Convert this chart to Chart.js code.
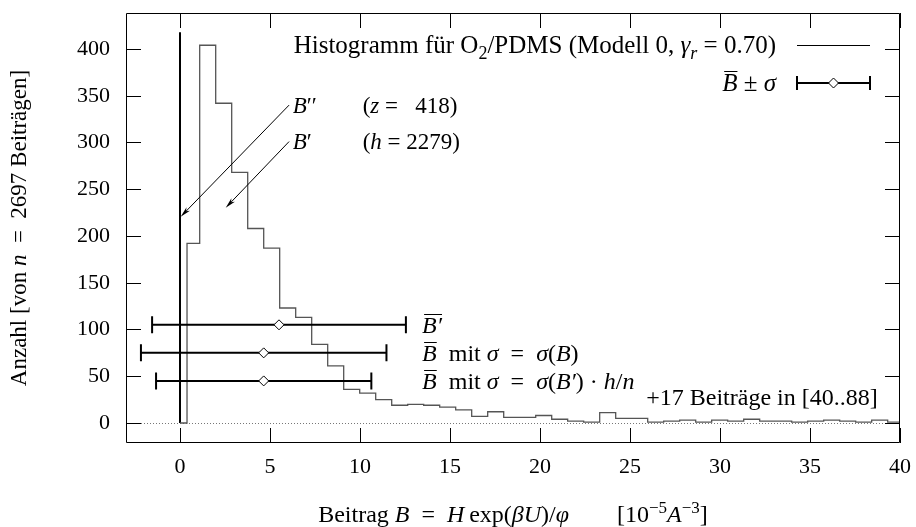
<!DOCTYPE html>
<html lang="de">
<head>
<meta charset="UTF-8">
<title>Histogramm O2/PDMS</title>
<script src="https://cdn.jsdelivr.net/npm/chart.js"></script>
<style>
    body { margin: 0; background: #fff; }
    #wrap { width: 916px; height: 527px; }
</style>
</head>
<body>
<div id="wrap"><canvas id="histChart" width="916" height="527"></canvas></div>
<script>
// ---- values ----
const zeroCount = 418;   // B'': contributions that are exactly 0
const binLeft = [0.39, 1.094, 1.983, 2.872, 3.761, 4.650, 5.538, 6.427, 7.316, 8.205,
                 9.094, 9.983, 10.872, 11.761, 12.650, 13.538, 14.427, 15.316, 16.205, 17.094,
                 17.983, 18.872, 19.761, 20.650, 21.538, 22.427, 23.316, 24.205, 25.094, 25.983,
                 26.872, 27.761, 28.650, 29.538, 30.427, 31.316, 32.205, 33.094, 33.983, 34.872,
                 35.761, 36.650, 37.538, 38.427, 39.316];
const binRightEnd = 40.205;
const binCount = [192, 404, 342, 268, 208, 187, 123, 113, 84, 61,
                  36, 32, 25, 19, 20, 19, 17, 14, 7, 12,
                  6, 6, 8, 4, 2, 1, 11, 5, 5, 1,
                  2, 3, 1, 3, 2, 4, 2, 2, 1, 2,
                  3, 2, 1, 3, 1];
const xTicks = [0, 5, 10, 15, 20, 25, 30, 35, 40];
const yTicks = [0, 50, 100, 150, 200, 250, 300, 350, 400];

// mean +- sigma bars (B', B with sigma(B), B with sigma(B')*h/n)
const barMean  = [5.50, 4.65, 4.65];
const barSigma = [7.05, 6.82, 5.98];
const barLevel = [105, 75, 45];

// ---- text helpers ----
const SERIF = '"Liberation Serif", "Times New Roman", serif';
const TICK_FS = 22;

function fontOf(s, size) {
    return (s.i ? 'italic ' : '') + size + 'px ' + SERIF;
}
function segSize(s, fs) { return (s.sub || s.sup) ? Math.round(fs * 0.72) : fs; }
function richWidth(ctx, segs, fs) {
    let w = 0;
    for (const s of segs) {
        ctx.font = fontOf(s, segSize(s, fs));
        w += ctx.measureText(s.t).width;
    }
    return w;
}
// y is the vertical centre of the text line
function drawRich(ctx, segs, x, y, align, fs) {
    const w = richWidth(ctx, segs, fs);
    let cx = align === 'right' ? x - w : align === 'center' ? x - w / 2 : x;
    const base = y + fs * 0.33;
    ctx.textAlign = 'left';
    ctx.textBaseline = 'alphabetic';
    ctx.fillStyle = '#000';
    ctx.strokeStyle = '#000';
    for (const s of segs) {
        const size = segSize(s, fs);
        ctx.font = fontOf(s, size);
        const sw = ctx.measureText(s.t).width;
        let by = base;
        if (s.sub) by += fs * 0.22;
        if (s.sup) by -= fs * 0.38;
        ctx.fillText(s.t, cx, by);
        if (s.over) {
            const oy = Math.round(base - fs * 0.8) + 0.5;
            ctx.beginPath();
            ctx.lineWidth = 1;
            ctx.moveTo(cx + 2, oy);
            ctx.lineTo(cx + sw, oy);
            ctx.stroke();
        }
        cx += sw;
    }
}

const EQ = '\u2002=\u2002';
const legendHist = [{t: 'Histogramm für O'}, {t: '2', sub: true}, {t: '/PDMS (Modell 0, '},
                    {t: 'γ', i: true}, {t: 'r', i: true, sub: true}, {t: ' = 0.70)'}];
const legendBar = [{t: 'B', i: true, over: true}, {t: ' ± '}, {t: 'σ', i: true}];
const barLabels = [
    [{t: 'B′', i: true, over: true}],
    [{t: 'B', i: true, over: true}, {t: '\u2002mit '}, {t: 'σ', i: true}, {t: EQ}, {t: 'σ', i: true},
     {t: '('}, {t: 'B', i: true}, {t: ')'}],
    [{t: 'B', i: true, over: true}, {t: '\u2002mit '}, {t: 'σ', i: true}, {t: EQ}, {t: 'σ', i: true},
     {t: '('}, {t: 'B′', i: true}, {t: ') · '}, {t: 'h', i: true}, {t: '/'}, {t: 'n', i: true}]
];
const xTitle = [{t: 'Beitrag '}, {t: 'B', i: true}, {t: EQ}, {t: 'H', i: true}, {t: '\u2009exp('},
                {t: 'βU', i: true}, {t: ')/'}, {t: 'φ', i: true}, {t: '\u2003\u2003[10'}, {t: '−5', sup: true},
                {t: 'A', i: true}, {t: '−3', sup: true}, {t: ']'}];
const yTitle = [{t: 'Anzahl [von '}, {t: 'n', i: true}, {t: EQ + '2697 Beiträgen]'}];

// annotations in data units
const notes = [
    {x: 6.26, y: 340, segs: [{t: 'B', i: true}, {t: '′′'}],
     x2: 10.15, segs2: [{t: '('}, {t: 'z', i: true}, {t: ' = \u2007418)'}],
     from: [6.06, 340], to: [0.04, 220.6]},
    {x: 6.26, y: 301, segs: [{t: 'B', i: true}, {t: '′'}],
     x2: 10.15, segs2: [{t: '('}, {t: 'h', i: true}, {t: ' = 2279)'}],
     from: [6.06, 301], to: [2.54, 230.2]}
];

function drawArrow(ctx, x1, y1, x2, y2) {
    const a = Math.atan2(y2 - y1, x2 - x1);
    const len = 11, half = 0.22;
    ctx.beginPath();
    ctx.lineWidth = 1;
    ctx.strokeStyle = '#000';
    ctx.moveTo(x1, y1);
    ctx.lineTo(x2 - Math.cos(a) * 4, y2 - Math.sin(a) * 4);
    ctx.stroke();
    ctx.beginPath();
    ctx.fillStyle = '#000';
    ctx.moveTo(x2, y2);
    ctx.lineTo(x2 - len * Math.cos(a - half), y2 - len * Math.sin(a - half));
    ctx.lineTo(x2 - len * 0.7 * Math.cos(a), y2 - len * 0.7 * Math.sin(a));
    ctx.lineTo(x2 - len * Math.cos(a + half), y2 - len * Math.sin(a + half));
    ctx.closePath();
    ctx.fill();
}

function drawErrBar(ctx, xl, xc, xr, y, cap, dia) {
    ctx.strokeStyle = '#000';
    ctx.lineWidth = 2;
    ctx.beginPath();
    ctx.moveTo(xl, y); ctx.lineTo(xr, y);
    ctx.moveTo(xl, y - cap); ctx.lineTo(xl, y + cap);
    ctx.moveTo(xr, y - cap); ctx.lineTo(xr, y + cap);
    ctx.stroke();
    ctx.beginPath();
    ctx.lineWidth = 1;
    ctx.fillStyle = '#fff';
    ctx.moveTo(xc - dia, y); ctx.lineTo(xc, y - dia); ctx.lineTo(xc + dia, y); ctx.lineTo(xc, y + dia);
    ctx.closePath();
    ctx.fill();
    ctx.stroke();
}

const decor = {
    id: 'decor',
    beforeDatasetsDraw(chart) {
        const {ctx, chartArea: a, scales: {y}} = chart;
        const y0 = Math.round(y.getPixelForValue(0)) + 0.5;
        ctx.save();
        ctx.strokeStyle = '#777';
        ctx.lineWidth = 1;
        ctx.setLineDash([1, 2]);
        ctx.beginPath();
        ctx.moveTo(a.left, y0); ctx.lineTo(a.right, y0);
        ctx.stroke();
        ctx.restore();
    },
    afterDatasetsDraw(chart) {
        const {ctx, chartArea: a, scales: {x, y}} = chart;
        ctx.save();
        // frame and inward ticks on all sides
        ctx.strokeStyle = '#000';
        ctx.lineWidth = 1;
        ctx.beginPath();
        ctx.rect(a.left + 0.5, a.top + 0.5, a.right - a.left - 1, a.bottom - a.top - 1);
        const tl = 15;
        xTicks.forEach(v => {
            const px = Math.round(x.getPixelForValue(v)) + 0.5;
            ctx.moveTo(px, a.bottom); ctx.lineTo(px, a.bottom - tl);
            ctx.moveTo(px, a.top); ctx.lineTo(px, a.top + tl);
        });
        yTicks.forEach(v => {
            const py = Math.round(y.getPixelForValue(v)) + 0.5;
            ctx.moveTo(a.left, py); ctx.lineTo(a.left + tl, py);
            ctx.moveTo(a.right, py); ctx.lineTo(a.right - tl, py);
        });
        ctx.stroke();

        // mean +- sigma bars
        barMean.forEach((m, i) => {
            const py = y.getPixelForValue(barLevel[i]);
            drawErrBar(ctx, x.getPixelForValue(m - barSigma[i]), x.getPixelForValue(m),
                       x.getPixelForValue(m + barSigma[i]), py, 8.5, 5);
            drawRich(ctx, barLabels[i], x.getPixelForValue(13.45), py, 'left', 24);
        });
        drawRich(ctx, [{t: '+17 Beiträge in [40..88]'}], x.getPixelForValue(38.76),
                 y.getPixelForValue(28), 'right', 24);

        // arrows and their labels
        notes.forEach(n => {
            drawRich(ctx, n.segs, x.getPixelForValue(n.x), y.getPixelForValue(n.y), 'left', 23);
            drawRich(ctx, n.segs2, x.getPixelForValue(n.x2), y.getPixelForValue(n.y), 'left', 23);
            drawArrow(ctx, x.getPixelForValue(n.from[0]), y.getPixelForValue(n.from[1]),
                      x.getPixelForValue(n.to[0]), y.getPixelForValue(n.to[1]));
        });

        // key, top right
        const kx = a.right - 124, sx1 = a.right - 103, sx2 = a.right - 30;
        const k1 = a.top + 32, k2 = a.top + 70;
        drawRich(ctx, legendHist, kx, k1, 'right', 25);
        ctx.strokeStyle = '#000';
        ctx.lineWidth = 1;
        ctx.beginPath();
        ctx.moveTo(sx1, Math.round(k1) + 0.5); ctx.lineTo(sx2, Math.round(k1) + 0.5);
        ctx.stroke();
        drawRich(ctx, legendBar, kx, k2, 'right', 25);
        drawErrBar(ctx, sx1, (sx1 + sx2) / 2, sx2, k2, 7, 5);

        // axis titles
        drawRich(ctx, xTitle, (a.left + a.right) / 2, 514, 'center', 24);
        ctx.translate(18, (a.top + a.bottom) / 2);
        ctx.rotate(-Math.PI / 2);
        drawRich(ctx, yTitle, 0, 0, 'center', 23);
        ctx.restore();
    }
};

// stepped outline: each point is a bin's left edge with its count
const histPoints = [{x: 0, y: 0}];
binLeft.forEach((b, i) => histPoints.push({x: b, y: binCount[i]}));
histPoints.push({x: binRightEnd, y: binCount[binCount.length - 1]});

function noPad(s) {
    s.paddingLeft = 0; s.paddingRight = 0; s.paddingTop = 0; s.paddingBottom = 0;
}

const ctx = document.getElementById('histChart').getContext('2d');
new Chart(ctx, {
    type: 'line',
    data: {
        datasets: [
            {
                label: 'Histogramm',
                data: histPoints,
                stepped: 'before',
                borderColor: '#555',
                borderWidth: 1.3,
                pointRadius: 0,
                fill: false
            },
            {
                label: 'B\'\'',
                data: [{x: 0, y: 0}, {x: 0, y: zeroCount}],
                borderColor: '#000',
                borderWidth: 2,
                pointRadius: 0,
                fill: false
            }
        ]
    },
    options: {
        responsive: false,
        animation: false,
        layout: {padding: {top: 13, right: 16, left: 0, bottom: 0}},
        plugins: {legend: {display: false}, tooltip: {enabled: false}},
        scales: {
            x: {
                type: 'linear',
                min: -3,
                max: 40,
                afterBuildTicks: s => { s.ticks = xTicks.map(v => ({value: v})); },
                afterFit: s => { s.height = 84; noPad(s); },
                grid: {display: false, drawTicks: false},
                border: {display: false},
                ticks: {color: '#000', padding: 11, maxRotation: 0,
                        font: {family: SERIF, size: TICK_FS}}
            },
            y: {
                type: 'linear',
                min: -21.4,
                max: 438.5,
                afterBuildTicks: s => { s.ticks = yTicks.map(v => ({value: v})); },
                afterFit: s => { s.width = 126; noPad(s); },
                grid: {display: false, drawTicks: false},
                border: {display: false},
                ticks: {color: '#000', padding: 16,
                        font: {family: SERIF, size: TICK_FS}}
            }
        }
    },
    plugins: [decor]
});
</script>
</body>
</html>
